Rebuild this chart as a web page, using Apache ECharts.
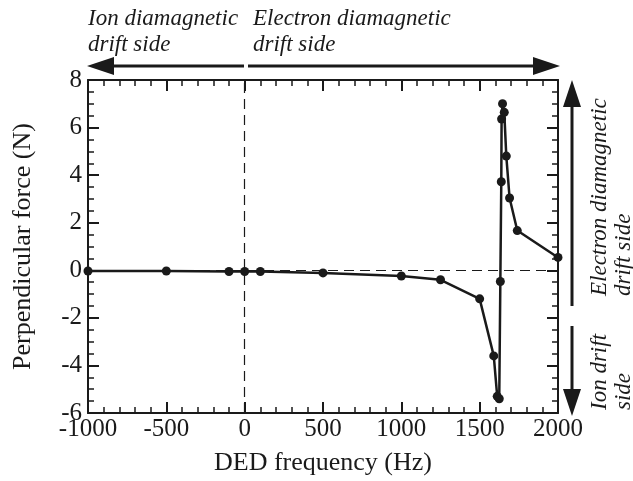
<!DOCTYPE html>
<html>
<head>
<meta charset="utf-8">
<script src="https://cdn.jsdelivr.net/npm/echarts@6/dist/echarts.min.js"></script>
<style>
html, body { margin: 0; padding: 0; background: #fff; }
#chart1 { width: 633px; height: 481px; }
</style>
</head>
<body>
<div id="chart1"></div>
<script>
// DED frequency (Hz), in drawing order
var freq = [-1000, -500, -100, 0, 100, 500, 1000, 1250, 1500, 1590, 1612, 1625,
            1632, 1638, 1640, 1646, 1657, 1670, 1691, 1740, 2000];
// perpendicular force (N)
var force = [-0.03, -0.03, -0.05, -0.05, -0.05, -0.11, -0.24, -0.40, -1.2, -3.6, -5.3, -5.4,
             -0.47, 3.72, 6.36, 7.0, 6.64, 4.8, 3.04, 1.67, 0.54];

var xTicks = [-1000, -500, 0, 500, 1000, 1500, 2000];
var yTicks = [-6, -4, -2, 0, 2, 4, 6, 8];

var ink = '#1a1a1a';
var serif = 'Liberation Serif';

var points = [];
for (var i = 0; i < freq.length; i++) {
    points.push([freq[i], force[i]]);
}

function axisBase(isX, pos, showLabel) {
    var ticks = isX ? xTicks : yTicks;
    return {
        type: 'value',
        position: pos,
        min: ticks[0],
        max: ticks[ticks.length - 1],
        interval: ticks[1] - ticks[0],
        axisLine: { show: true, onZero: false, lineStyle: { color: ink, width: 2 } },
        axisTick: { show: true, inside: true, length: 11, lineStyle: { color: ink, width: 2 } },
        minorTick: { show: true, splitNumber: isX ? 5 : 4, length: 6, lineStyle: { color: ink, width: 1.5 } },
        splitLine: { show: false },
        axisLabel: {
            show: showLabel,
            color: ink,
            fontFamily: serif,
            fontSize: 25,
            margin: isX ? 4 : 6,
            formatter: function (v) { return String(v); }
        }
    };
}

var xBottom = axisBase(true, 'bottom', true);
xBottom.name = 'DED frequency (Hz)';
xBottom.nameLocation = 'middle';
xBottom.nameGap = 37;
xBottom.nameTextStyle = { color: ink, fontFamily: serif, fontSize: 26 };

var yLeft = axisBase(false, 'left', true);
yLeft.name = 'Perpendicular force (N)';
yLeft.nameLocation = 'middle';
yLeft.nameGap = 52;
yLeft.nameTextStyle = { color: ink, fontFamily: serif, fontSize: 26 };

var xTop = axisBase(true, 'top', false);
var yRight = axisBase(false, 'right', false);

var italic = 'italic 23px "Liberation Serif"';

var chart = echarts.init(document.getElementById('chart1'));
chart.setOption({
    animation: false,
    backgroundColor: '#fff',
    grid: { left: 88, right: 75, top: 80, bottom: 65 },
    xAxis: [xBottom, xTop],
    yAxis: [yLeft, yRight],
    series: [{
        type: 'line',
        data: points,
        clip: false,
        symbol: 'circle',
        symbolSize: 9,
        itemStyle: { color: ink },
        lineStyle: { color: ink, width: 2.5 },
        markLine: {
            silent: true,
            symbol: 'none',
            label: { show: false },
            lineStyle: { color: ink, width: 1.2, type: [10, 6] },
            data: [{ yAxis: 0 }, { xAxis: 0 }]
        }
    }],
    graphic: [
        // top arrows
        { type: 'line', shape: { x1: 244, y1: 66, x2: 105, y2: 66 }, style: { stroke: ink, lineWidth: 3 } },
        { type: 'polygon', shape: { points: [[87, 66], [114, 57], [114, 75]] }, style: { fill: ink } },
        { type: 'line', shape: { x1: 248, y1: 66, x2: 540, y2: 66 }, style: { stroke: ink, lineWidth: 3 } },
        { type: 'polygon', shape: { points: [[560, 66], [533, 57], [533, 75]] }, style: { fill: ink } },
        { type: 'text', x: 88, y: 6, style: { text: 'Ion diamagnetic\ndrift side', font: italic, fill: ink, lineHeight: 26 } },
        { type: 'text', x: 253, y: 6, style: { text: 'Electron diamagnetic\ndrift side', font: italic, fill: ink, lineHeight: 26 } },
        // right arrows
        { type: 'line', shape: { x1: 572, y1: 100, x2: 572, y2: 306 }, style: { stroke: ink, lineWidth: 3 } },
        { type: 'polygon', shape: { points: [[572, 80], [563, 107], [581, 107]] }, style: { fill: ink } },
        { type: 'line', shape: { x1: 572, y1: 326, x2: 572, y2: 395 }, style: { stroke: ink, lineWidth: 3 } },
        { type: 'polygon', shape: { points: [[572, 416], [563, 389], [581, 389]] }, style: { fill: ink } },
        { type: 'text', x: 588, y: 296, rotation: Math.PI / 2,
          style: { text: 'Electron diamagnetic\ndrift side', font: italic, fill: ink, lineHeight: 24 } },
        { type: 'text', x: 588, y: 410, rotation: Math.PI / 2,
          style: { text: 'Ion drift\nside', font: italic, fill: ink, lineHeight: 24 } }
    ]
});
</script>
</body>
</html>
